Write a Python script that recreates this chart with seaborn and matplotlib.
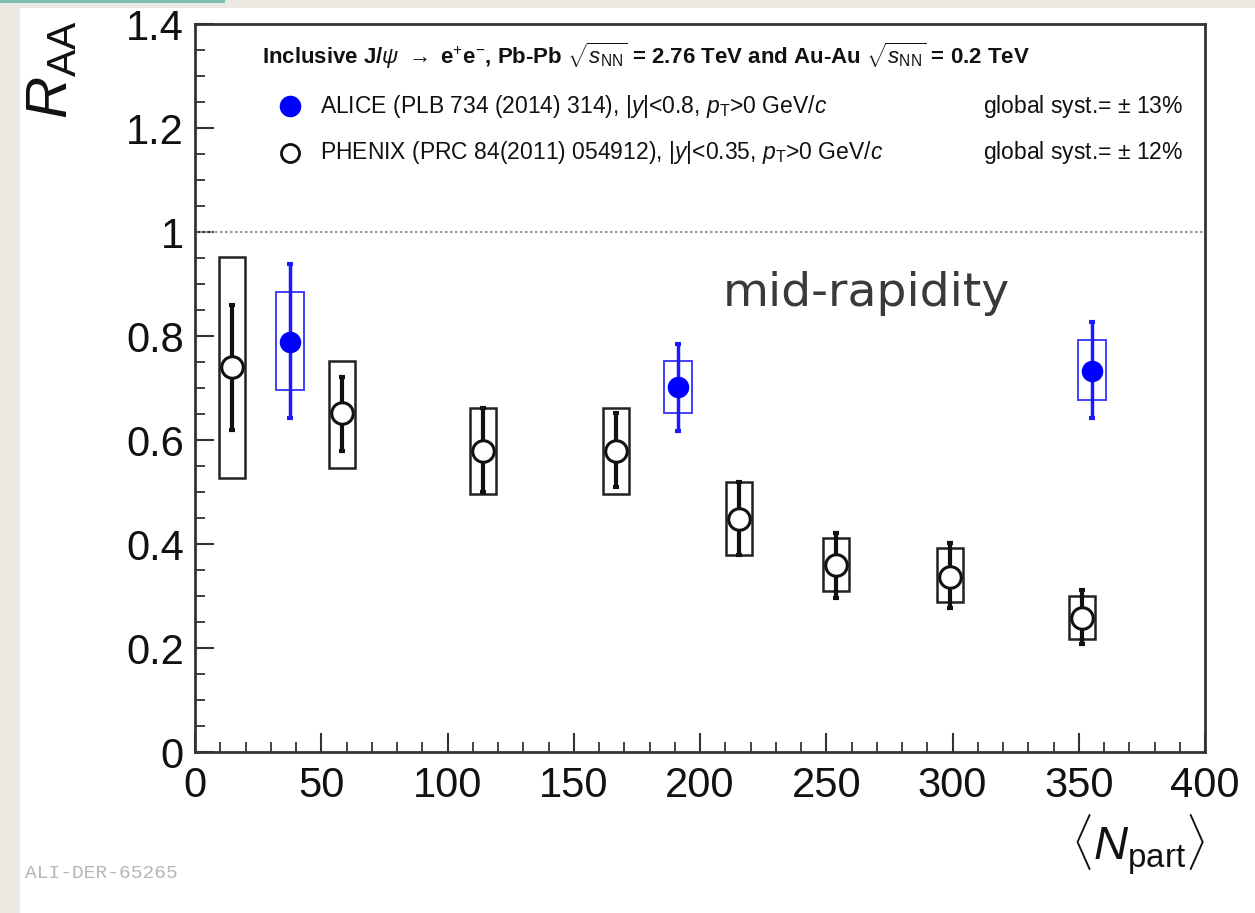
import matplotlib
matplotlib.use("Agg")
import matplotlib.pyplot as plt
import seaborn as sns
import numpy as np
import pandas as pd
from matplotlib.patches import Rectangle
from matplotlib.ticker import MultipleLocator

# ---- data ----
phenix_npart = [14.5, 58.3, 114.2, 166.6, 215.3, 253.9, 299.0, 351.4]
phenix_raa = [0.741, 0.651, 0.579, 0.579, 0.448, 0.360, 0.337, 0.257]
phenix_stat_lo = [0.619, 0.579, 0.500, 0.510, 0.379, 0.297, 0.276, 0.207]
phenix_stat_hi = [0.860, 0.722, 0.661, 0.651, 0.519, 0.422, 0.401, 0.312]
phenix_syst_lo = [0.527, 0.547, 0.497, 0.497, 0.379, 0.310, 0.288, 0.218]
phenix_syst_hi = [0.952, 0.751, 0.661, 0.661, 0.519, 0.412, 0.392, 0.300]

alice_npart = [37.6, 191.4, 355.4]
alice_raa = [0.789, 0.701, 0.733]
alice_stat_lo = [0.642, 0.618, 0.643]
alice_stat_hi = [0.938, 0.785, 0.826]
alice_syst_lo = [0.696, 0.651, 0.677]
alice_syst_hi = [0.884, 0.751, 0.792]

x_ticks = [0, 50, 100, 150, 200, 250, 300, 350, 400]
y_ticks = [0, 0.2, 0.4, 0.6, 0.8, 1, 1.2, 1.4]
y_ticklabels = ["0", "0.2", "0.4", "0.6", "0.8", "1", "1.2", "1.4"]

sns.set_theme(style="white")
plt.rcParams['font.family'] = ['Liberation Sans', 'DejaVu Sans']
plt.rcParams['mathtext.fontset'] = 'custom'
plt.rcParams['mathtext.rm'] = 'Liberation Sans'
plt.rcParams['mathtext.it'] = 'Liberation Sans:italic'
plt.rcParams['mathtext.bf'] = 'Liberation Sans:bold'

W, H = 1255, 913
fig = plt.figure(figsize=(W / 100, H / 100), dpi=100, facecolor='#ece9e3')
# white card
fig.patches.append(Rectangle((20 / W, 0), 1 - 20 / W, 1 - 8 / H, transform=fig.transFigure,
                             facecolor='white', edgecolor='none', zorder=-10))
fig.patches.append(Rectangle((0, 1 - 3 / H), 225 / W, 3 / H, transform=fig.transFigure,
                             facecolor='#7fbfb3', edgecolor='none', zorder=-10))

ax = fig.add_axes([195 / W, 1 - 752 / H, 1010 / W, 728 / H])
ax.set_zorder(2)
ax.set_facecolor('white')

ph = pd.DataFrame({"npart": phenix_npart, "raa": phenix_raa,
                   "slo": phenix_stat_lo, "shi": phenix_stat_hi,
                   "ylo": phenix_syst_lo, "yhi": phenix_syst_hi})
al = pd.DataFrame({"npart": alice_npart, "raa": alice_raa,
                   "slo": alice_stat_lo, "shi": alice_stat_hi,
                   "ylo": alice_syst_lo, "yhi": alice_syst_hi})

# reference line at 1
ax.axhline(1.0, color='#999999', lw=1.5, ls=(0, (1.2, 1.2)), zorder=1)

# systematic boxes
ax.bar(ph["npart"], ph["yhi"] - ph["ylo"], bottom=ph["ylo"], width=10.3,
       fill=False, edgecolor='#222222', linewidth=1.8, zorder=2)
ax.bar(al["npart"], al["yhi"] - al["ylo"], bottom=al["ylo"], width=11,
       fill=False, edgecolor='#4040ff', linewidth=1.4, zorder=2)

# statistical errors
ax.errorbar(ph["npart"], ph["raa"],
            yerr=[ph["raa"] - ph["slo"], ph["shi"] - ph["raa"]],
            fmt='none', ecolor='#111111', elinewidth=3, capsize=2.5, capthick=3, zorder=3)
ax.errorbar(al["npart"], al["raa"],
            yerr=[al["raa"] - al["slo"], al["shi"] - al["raa"]],
            fmt='none', ecolor='#1a1aff', elinewidth=2.5, capsize=2.5, capthick=3, zorder=3)

# markers
sns.scatterplot(data=ph, x="npart", y="raa", ax=ax, marker='o', s=240,
                facecolor='white', edgecolor='#111111', linewidth=2.2, zorder=4, legend=False)
sns.scatterplot(data=al, x="npart", y="raa", ax=ax, marker='o', s=210,
                color='#0000ff', edgecolor='#0000ff', linewidth=1, zorder=4, legend=False)

ax.set_xlim(0, 400)
ax.set_ylim(0, 1.4)
ax.set_xticks(x_ticks)
ax.set_xticklabels([str(t) for t in x_ticks])
ax.set_yticks(y_ticks)
ax.set_yticklabels(y_ticklabels)
ax.xaxis.set_minor_locator(MultipleLocator(10))
ax.yaxis.set_minor_locator(MultipleLocator(0.05))
ax.tick_params(axis='both', which='major', direction='in', length=14, width=1.5,
               color='#333333', labelsize=30, labelcolor='#111111')
ax.tick_params(axis='both', which='minor', direction='in', length=7, width=1.3, color='#333333')
ax.tick_params(axis='x', which='major', pad=10)
ax.tick_params(axis='y', which='major', pad=8)
ax.tick_params(top=False, right=False, which='both', left=True, bottom=True)
for s in ax.spines.values():
    s.set_color('#333333')
    s.set_linewidth(2)
ax.set_xlabel("")
ax.set_ylabel("")

# axis titles
fig.text(52 / W, 1 - 70 / H, r"$R_{\rm AA}$", rotation=90, fontsize=42,
         ha='center', va='center', color='#111111')
fig.text(1205 / W, 1 - 845 / H, r"$\langle N_{\rm part}\rangle$", fontsize=34,
         ha='right', va='center', color='#111111')

# legend (drawn in axes coordinates)
ax.text(0.066, 0.957,
        r"Inclusive J/$\psi$ $\rightarrow$ e$^{+}$e$^{-}$, Pb-Pb $\sqrt{s_{\rm NN}}$ = 2.76 TeV and Au-Au $\sqrt{s_{\rm NN}}$ = 0.2 TeV",
        transform=ax.transAxes, fontsize=16, fontweight='bold', ha='left', va='center',
        color='#111111')
ax.plot([0.094], [0.887], marker='o', ms=14.5, color='#0000ff', transform=ax.transAxes,
        clip_on=False, zorder=5)
ax.plot([0.094], [0.823], marker='o', ms=13, mfc='white', mec='#111111', mew=2,
        transform=ax.transAxes, clip_on=False, zorder=5)
ax.text(0.124, 0.887, r"ALICE (PLB 734 (2014) 314), $|y|$<0.8, $p_{\rm T}$>0 GeV/$c$",
        transform=ax.transAxes, fontsize=16.5, ha='left', va='center', color='#111111')
ax.text(0.124, 0.823, r"PHENIX (PRC 84(2011) 054912), $|y|$<0.35, $p_{\rm T}$>0 GeV/$c$",
        transform=ax.transAxes, fontsize=16.5, ha='left', va='center', color='#111111')
ax.text(0.978, 0.887, r"global syst.= $\pm$ 13%", transform=ax.transAxes, fontsize=16.5,
        ha='right', va='center', color='#111111')
ax.text(0.978, 0.823, r"global syst.= $\pm$ 12%", transform=ax.transAxes, fontsize=16.5,
        ha='right', va='center', color='#111111')

# annotation
ax.text(0.665, 0.63, "mid-rapidity", fontsize=34, ha='center', va='center',
        color='#3a3a3a', family=['DejaVu Sans'], transform=ax.transAxes)

# watermark
fig.text(25 / W, 1 - 873 / H, "ALI-DER-65265", fontsize=14, ha='left', va='center',
         color='#b5b5b5', family=['Liberation Mono', 'DejaVu Sans Mono'])

fig.savefig("out.png", dpi=100, facecolor=fig.get_facecolor())
